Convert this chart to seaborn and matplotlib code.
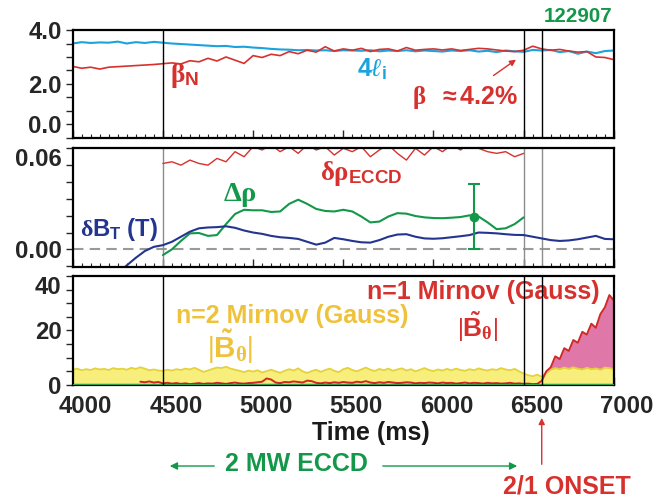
"""
Three stacked time traces for shot 122907: beta / internal inductance,
island width vs. ECCD deposition width, and the n=1 / n=2 Mirnov amplitudes.

Usage:
    python plot.py
"""

import matplotlib.pyplot as plt
import seaborn as sns
from matplotlib import font_manager
from matplotlib.patches import FancyArrowPatch
from matplotlib.ticker import FixedLocator, MultipleLocator
from matplotlib.transforms import ScaledTranslation

# ---------------------------------------------------------------- data
# top panel, 4000-7000 ms every 50 ms
t_top = list(range(4000, 7001, 50))
li4 = [3.50, 3.55, 3.52, 3.54, 3.53, 3.57, 3.50, 3.55, 3.52, 3.56, 3.53,
       3.50, 3.48, 3.46, 3.44, 3.42, 3.40, 3.41, 3.37, 3.38, 3.35,
       3.33, 3.30, 3.28, 3.27, 3.25, 3.26, 3.24, 3.25, 3.22, 3.25,
       3.24, 3.23, 3.25, 3.21, 3.24, 3.22, 3.25, 3.21, 3.24, 3.22,
       3.20, 3.24, 3.22, 3.25, 3.20, 3.23, 3.18, 3.24, 3.21, 3.19,
       3.26, 3.24, 3.26, 3.18, 3.22, 3.12, 3.20, 3.14, 3.22, 3.24]
beta_n = [2.65, 2.58, 2.62, 2.55, 2.62, 2.64, 2.66, 2.68, 2.70, 2.72, 2.75,
          2.78, 2.74, 2.86, 2.82, 2.95, 2.85, 3.00, 2.88, 2.76, 3.05,
          2.98, 3.10, 3.05, 3.20, 3.12, 3.25, 3.18, 3.38, 3.22, 3.30,
          3.25, 3.32, 3.20, 3.28, 3.30, 3.22, 3.35, 3.25, 3.28, 3.30,
          3.26, 3.30, 3.24, 3.28, 3.32, 3.30, 3.26, 3.22, 3.20, 3.25,
          3.40, 3.30, 3.25, 3.28, 3.22, 3.18, 3.20, 3.00, 2.98, 2.90]

# middle panel, during ECCD (4500-6500 ms every 50 ms)
t_eccd = list(range(4500, 6501, 50))
drho_eccd = [0.051, 0.052, 0.050, 0.053, 0.051, 0.050, 0.054, 0.052, 0.058, 0.055, 0.061,
             0.059, 0.062, 0.058, 0.061, 0.057, 0.062, 0.059, 0.061, 0.056, 0.060,
             0.058, 0.061, 0.055, 0.059, 0.062, 0.057, 0.053, 0.060, 0.056, 0.061,
             0.058, 0.062, 0.059, 0.063, 0.060, 0.058, 0.057, 0.058, 0.055, 0.057]
island_drho = [-0.0034, 0.0000, 0.0050, 0.0095, 0.0097, 0.0080, 0.0085, 0.0150, 0.0210, 0.0235, 0.0232,
               0.0232, 0.0222, 0.0225, 0.0270, 0.0295, 0.0270, 0.0240, 0.0228, 0.0225, 0.0235,
               0.0225, 0.0195, 0.0160, 0.0165, 0.0195, 0.0215, 0.0212, 0.0198, 0.0190, 0.0186,
               0.0185, 0.0188, 0.0192, 0.0202, 0.0195, 0.0160, 0.0120, 0.0125, 0.0150, 0.0190]
err_t = [6225]
err_val = [0.0195]
err_bar = [0.0195]

# toroidal field ramp, 4250-7000 ms every 50 ms
t_bt = list(range(4250, 7001, 50))
dbt = [-0.0140, -0.0095, -0.0050, -0.0010, 0.0015, 0.0025, 0.0045, 0.0075, 0.0105, 0.0125,
       0.0130, 0.0132, 0.0137, 0.0128, 0.0112, 0.0100,
       0.0092, 0.0080, 0.0072, 0.0068, 0.0062, 0.0045, 0.0028, 0.0040, 0.0068, 0.0060,
       0.0050, 0.0042, 0.0040, 0.0055, 0.0075, 0.0088, 0.0090, 0.0075, 0.0065, 0.0063,
       0.0066, 0.0072, 0.0078, 0.0085, 0.0100, 0.0098, 0.0095, 0.0090, 0.0086, 0.0085,
       0.0075, 0.0065, 0.0055, 0.0050, 0.0053, 0.0060, 0.0070, 0.0080, 0.0062, 0.0060]

# bottom panel, Mirnov amplitudes every 25 ms
t_n2 = list(range(4000, 7001, 25))
mirnov_n2 = [5.6, 6.0, 5.4, 5.8, 5.5, 6.1, 5.7, 5.9, 5.5, 6.2, 5.8, 6.0, 5.6, 6.3, 5.9, 6.5, 6.0, 5.4, 5.7, 5.3,
             5.2, 5.6, 5.3, 5.8, 5.5, 6.0, 5.7, 6.3, 5.6, 4.8, 5.3, 5.9, 6.4, 6.2, 6.7, 6.0, 5.6, 5.2, 4.7, 5.3,
             4.9, 5.4, 4.6, 5.1, 5.6, 5.0, 4.5, 5.2, 5.8, 5.3, 6.1, 5.0, 4.4, 5.1, 5.6, 4.8, 5.5, 6.0, 5.2, 4.7,
             5.8, 6.3, 5.5, 5.0, 5.7, 6.4, 5.6, 5.1, 5.9, 5.4, 6.0, 5.2, 5.7, 6.1, 5.3, 5.8, 5.0, 5.6, 6.2, 5.5,
             5.1, 5.7, 5.3, 5.9, 5.4, 6.0, 5.5, 5.2, 5.8, 5.4, 6.1, 5.6, 5.3, 5.8, 5.5, 6.2, 5.7, 5.4, 5.9, 5.0,
             4.2, 3.6, 3.2, 3.8, 3.0, 4.4, 5.6, 6.2, 5.8, 6.4, 5.9, 6.5, 6.0, 5.7, 6.3, 5.8, 6.1, 5.6, 6.4, 6.2,
             5.8]
t_n1 = list(range(4375, 7001, 25))
mirnov_n1 = [1.2, 1.0, 1.3, 0.9, 1.1,
             0.6, 0.8, 0.5, 0.7, 0.4, 0.6, 0.3, 0.5, 0.7, 0.4, 0.6, 0.5, 0.8, 0.6, 0.4, 0.7, 0.9, 0.6, 0.5, 0.7,
             0.8, 1.0, 1.2, 2.4, 2.0, 0.9, 0.7, 1.1, 1.0, 1.3, 1.1, 0.9, 1.6, 1.4, 0.8, 0.6, 0.9, 0.7, 1.0, 0.8,
             1.1, 0.9, 0.8, 1.2, 1.0, 1.4, 0.9, 0.7, 1.0, 0.8, 1.1, 0.9, 0.7, 0.8, 1.0, 0.9, 0.6, 0.8, 0.7, 0.9,
             0.8, 0.6, 0.9, 0.7, 0.8, 0.5, 0.7, 0.9, 0.6, 0.8, 0.7, 0.5, 0.8, 0.6, 0.7, 0.5, 0.6, 0.8, 0.5, 0.6,
             0.4, 0.5, 0.3, 0.4, 1.5, 5.0, 6.5, 10.5, 9.5, 13.5, 12.5, 16.5, 15.5, 19.5, 18.5, 22.5, 21.0, 26.0, 28.5, 33.0,
             31.0]

ECCD_ON = 4500
ECCD_OFF = 6500
ONSET = 6600
XTICKS = [4000, 4500, 5000, 5500, 6000, 6500, 7000]

# ---------------------------------------------------------------- style
RED = "#d7312e"
CYAN = "#1aa3dd"
GREEN = "#13984a"
NAVY = "#24358f"
GOLD = "#efc23c"
YEL_FILL = "#f7ee7c"
YEL_EDGE = "#e4d23a"
PINK = "#df78a8"

sns.set_style("ticks")
installed = {f.name for f in font_manager.fontManager.ttflist}
SANS = "Liberation Sans Narrow" if "Liberation Sans Narrow" in installed else "Liberation Sans"
k = 1.0 if SANS == "Liberation Sans Narrow" else 0.82
plt.rcParams["font.family"] = [SANS, "DejaVu Sans"]
plt.rcParams["font.weight"] = "bold"
plt.rcParams["mathtext.fontset"] = "custom"
plt.rcParams["mathtext.rm"] = "Liberation Serif"
plt.rcParams["mathtext.it"] = "Liberation Serif:italic"
plt.rcParams["mathtext.bf"] = f"{SANS}:bold"
plt.rcParams["mathtext.sf"] = SANS

fig = plt.figure(figsize=(6.56, 4.99), dpi=100)
ax_top = fig.add_axes([0.1108, 0.7240, 0.8250, 0.2158])
ax_mid = fig.add_axes([0.1108, 0.4655, 0.8250, 0.2373])
ax_bot = fig.add_axes([0.1108, 0.2285, 0.8250, 0.2184])


def style_axis(ax, yticks, ylabels, yminor):
    ax.set_xlim(4000, 7000)
    for side in ax.spines.values():
        side.set_linewidth(1.6)
        side.set_color("black")
    ax.xaxis.set_major_locator(FixedLocator(XTICKS))
    ax.xaxis.set_minor_locator(MultipleLocator(50))
    ax.tick_params(axis="x", which="major", direction="in", length=6, width=1, pad=7)
    ax.tick_params(axis="x", which="minor", direction="in", length=3, width=0.8)
    ax.yaxis.set_major_locator(FixedLocator(yticks))
    ax.set_yticklabels(ylabels)
    ax.yaxis.set_minor_locator(MultipleLocator(yminor))
    ax.tick_params(axis="y", which="both", direction="out", length=5, width=1, pad=3)
    ax.tick_params(axis="both", labelsize=21 * k)


# ---------------------------------------------------------------- top: beta_N and 4 li
sns.lineplot(x=t_top, y=li4, ax=ax_top, color=CYAN, lw=1.5, estimator=None)
sns.lineplot(x=t_top, y=beta_n, ax=ax_top, color=RED, lw=1.2, estimator=None)
for t in (ECCD_ON, ECCD_OFF, ONSET):
    ax_top.axvline(t, color="black", lw=1)
ax_top.set_ylim(0, 4)
style_axis(ax_top, [0, 2, 4], ["0.0", "2.0", "4.0"], 0.5)
ax_top.tick_params(labelbottom=False)
ax_top.get_yticklabels()[0].set_va("bottom")

ax_top.text(4540, 2.3, r"$\mathrm{\beta}_{\mathbf{N}}$", color=RED, fontsize=24 * k,
            ha="left", va="center")
ax_top.text(5660, 2.55, r"$\mathbf{4}\ell_{\mathbf{i}}$", color=CYAN, fontsize=22 * k,
            ha="center", va="center")
ax_top.text(5880, 1.5, r"$\mathrm{\beta}\ \ \mathbf{\approx 4.2\%}$", color=RED,
            fontsize=22 * k, ha="left", va="center")
ax_top.annotate("", xy=(6470, 2.96), xytext=(6320, 2.25),
                arrowprops=dict(arrowstyle="-|>", color=RED, lw=1, mutation_scale=9))
fig.text(0.8806, 0.966, "122907", color=GREEN, fontsize=18 * k, ha="center", va="center")

# ---------------------------------------------------------------- middle: island vs ECCD width
ax_mid.axhline(0, color="#9a9a9a", lw=1.5, ls=(0, (5, 3)))
for t in (ECCD_ON, ECCD_OFF, ONSET):
    ax_mid.axvline(t, color="#8c8c8c", lw=1)
sns.lineplot(x=t_eccd, y=drho_eccd, ax=ax_mid, color=RED, lw=1, estimator=None)
sns.lineplot(x=t_eccd, y=island_drho, ax=ax_mid, color=GREEN, lw=1.5, estimator=None)
sns.lineplot(x=t_bt, y=dbt, ax=ax_mid, color=NAVY, lw=1.5, estimator=None)
ax_mid.errorbar(err_t, err_val, yerr=err_bar, fmt="o", color=GREEN, ms=6,
                capsize=4, elinewidth=1.5, capthick=1.5)
ax_mid.set_ylim(-0.0103, 0.06)
style_axis(ax_mid, [0.0, 0.06], ["0.00", "0.06"], 0.01)
ax_mid.tick_params(labelbottom=False)
ax_mid.get_yticklabels()[1].set_va("top")

ax_mid.text(5600, 0.045, r"$\mathrm{\delta\rho}_{\mathbf{ECCD}}$", color=RED,
            fontsize=23.5 * k, ha="center", va="center")
ax_mid.text(4930, 0.032, r"$\mathrm{\Delta\rho}$", color=GREEN, fontsize=25 * k,
            ha="center", va="center")
ax_mid.text(4257, 0.0115, r"$\mathrm{\delta}\mathbf{B}_{\mathbf{T}}\ \mathbf{(T)}$",
            color=NAVY, fontsize=21 * k, ha="center", va="center")

# ---------------------------------------------------------------- bottom: Mirnov amplitudes
ax_bot.fill_between(t_n1, 0, mirnov_n1, where=[t >= ONSET - 25 for t in t_n1],
                    color=PINK, lw=0)
ax_bot.fill_between(t_n2, 0, mirnov_n2, color=YEL_FILL, lw=0)
sns.lineplot(x=t_n2, y=mirnov_n2, ax=ax_bot, color=YEL_EDGE, lw=1.3, estimator=None)
sns.lineplot(x=t_n1, y=mirnov_n1, ax=ax_bot, color="#cf2a28", lw=1.4, estimator=None)
ax_bot.axhline(0, color="#2aa04a", lw=2.2, zorder=5)
for t in (ECCD_ON, ECCD_OFF, ONSET):
    ax_bot.axvline(t, color="black", lw=1, zorder=6)
ax_bot.set_ylim(0, 40)
style_axis(ax_bot, [0, 20, 40], ["0", "20", "40"], 5)
ax_bot.get_yticklabels()[2].set_va("top")
ax_bot.set_xticklabels([str(t) for t in XTICKS])
shift = ScaledTranslation(0.13, 0, fig.dpi_scale_trans)
for label in ax_bot.xaxis.get_majorticklabels():
    label.set_transform(label.get_transform() + shift)

ax_bot.text(6276, 34.1, "n=1 Mirnov (Gauss)", color=RED, fontsize=22 * k,
            ha="center", va="center")
ax_bot.text(6243, 21.3, r"$|\tilde{\mathbf{B}}_{\mathrm{\theta}}|$", color=RED,
            fontsize=23 * k, ha="center", va="center")
ax_bot.text(5216, 25.3, "n=2 Mirnov (Gauss)", color=GOLD, fontsize=22 * k,
            ha="center", va="center")
ax_bot.text(4873, 13.9, r"$|\tilde{\mathbf{B}}_{\mathrm{\theta}}|$", color=GOLD,
            fontsize=26 * k, ha="center", va="center")

# ---------------------------------------------------------------- labels below the axes
fig.text(0.5655, 0.1323, "Time (ms)", color="#1a1a1a", fontsize=22 * k,
         ha="center", va="center")
fig.text(0.4512, 0.0701, "2 MW ECCD", color=GREEN, fontsize=22 * k,
         ha="center", va="center")
arrow_kw = dict(arrowstyle="-|>", color=GREEN, lw=1, mutation_scale=11)
fig.add_artist(FancyArrowPatch((0.3308, 0.0661), (0.2546, 0.0661),
                               transform=fig.transFigure, **arrow_kw))
fig.add_artist(FancyArrowPatch((0.5793, 0.0661), (0.7927, 0.0661),
                               transform=fig.transFigure, **arrow_kw))
fig.text(0.8643, 0.026, "2/1 ONSET", color=RED, fontsize=22 * k,
         ha="center", va="center")
ax_bot.annotate("", xy=(ONSET, 0.168), xytext=(ONSET, 0.064),
                xycoords=("data", "figure fraction"),
                textcoords=("data", "figure fraction"),
                arrowprops=dict(arrowstyle="-|>", color=RED, lw=1, mutation_scale=9),
                annotation_clip=False)

fig.savefig("out.png", dpi=100)
plt.close(fig)
